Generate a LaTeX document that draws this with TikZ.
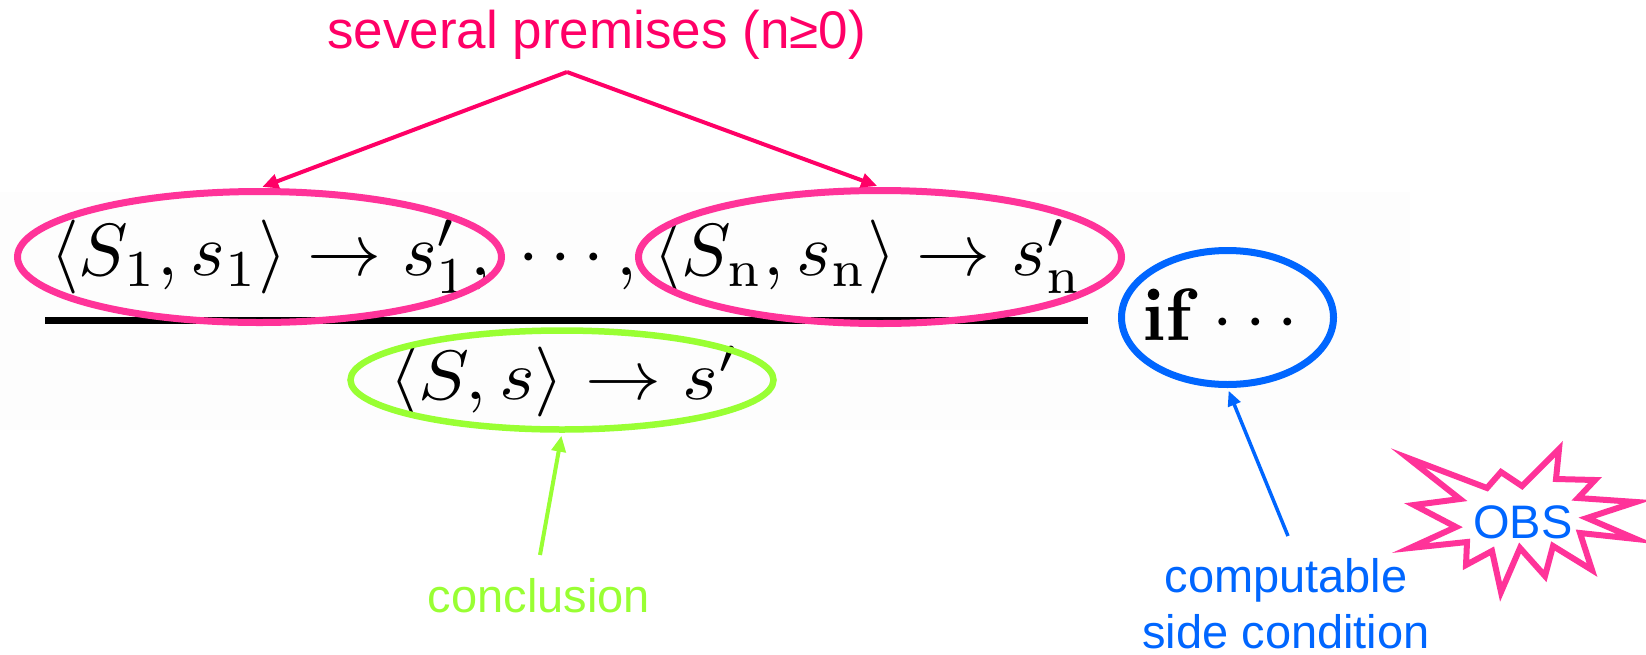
\documentclass[tikz,border=0pt]{standalone}
\usepackage[no-math]{fontspec}
\usepackage{graphicx}
\usetikzlibrary{arrows.meta,shapes.geometric}
\newfontfamily\arialf{Liberation Sans}
\definecolor{pinkA}{HTML}{FF3399}
\definecolor{pinkB}{HTML}{FF0066}
\definecolor{greenA}{HTML}{99FF33}
\definecolor{blueA}{HTML}{0066FF}
\definecolor{bandgray}{HTML}{FDFDFD}
\tikzset{
  lbl/.style={font=\arialf\fontsize{47}{56}\selectfont, inner sep=0pt},
  biglbl/.style={font=\arialf\fontsize{53}{60}\selectfont, inner sep=0pt},
  mathtxt/.style={inner sep=0pt, anchor=base west},
  oval/.style={ellipse, draw, fill=none, inner sep=0pt},
  pinkarrow/.style={draw=pinkB, line width=4pt, shorten >=3pt, -{Triangle[length=16pt,width=14pt]}},
  greenarrow/.style={draw=greenA, line width=4pt, shorten >=3pt, -{Triangle[length=16pt,width=14pt]}},
  bluearrow/.style={draw=blueA, line width=3.5pt, shorten >=3pt, -{Triangle[length=15pt,width=13pt]}},
}
\begin{document}
\begin{tikzpicture}[x=1pt,y=-1pt]
\useasboundingbox (0,0) rectangle (1646,654);
\fill[bandgray] (0,192) rectangle (1410,430);
% inference rule line
\draw[line width=6.5pt] (45,320.5) -- (1088,320.5);
% formulas
\node[mathtxt] (p1txt) at (50,275) {\scalebox{7.4}{$\langle S_1, s_1\rangle \to s'_1,$}};
\node[mathtxt] (dtxt) at (518,275) {\scalebox{7.4}{$\cdots,$}};
\node[mathtxt] (pntxt) at (653,275) {\scalebox{7.4}{$\langle S_{\mathrm{n}}, s_{\mathrm{n}}\rangle \to s'_{\mathrm{n}}$}};
\node[mathtxt] (ctxt) at (389,399) {\scalebox{7.6}[7.0]{$\langle S, s\rangle \to s'$}};
\node[mathtxt] (iftxt) at (1142,340) {\scalebox{7.4}{$\mathbf{if}\cdots$}};
% ovals
\node[oval, draw=pinkA, line width=7pt, minimum width=484pt, minimum height=131pt] (prem1) at (259.5,257) {};
\node[oval, draw=pinkA, line width=7pt, minimum width=483pt, minimum height=133pt] (premn) at (880,257) {};
\node[oval, draw=greenA, line width=6.5pt, minimum width=423pt, minimum height=99pt] (concl) at (562,380) {};
\node[oval, draw=blueA, line width=7pt, minimum width=212pt, minimum height=134pt] (side) at (1227.5,317.5) {};
% labels
\node[biglbl, text=pinkB, anchor=base] (premlbl) at (596.5,48) {several premises (n≥0)};
\node[lbl, text=greenA, anchor=base] (concllbl) at (539,612) {conclusion};
\node[lbl, text=blueA, anchor=base, align=center] (sidelbl) at (1286,648) {computable\\side condition};
% connectors
\coordinate (apex) at (567,72);
\draw[pinkarrow] (apex) -- (prem1.north);
\draw[pinkarrow] (apex) -- (premn.north);
\coordinate (ctail) at (540,555);
\draw[greenarrow] (ctail) -- (concl.south);
\coordinate (btail) at (1288,536);
\draw[bluearrow] (btail) -- (side.south);
% OBS starburst
\draw[draw=pinkA, line width=6pt, line join=miter, fill=white]
  (1559,449) -- (1556,479) -- (1595,480) -- (1578,498) -- (1636,502) -- (1587,518)
  -- (1636,539) -- (1580,533) -- (1592,570) -- (1553,546) -- (1545,576) -- (1520,548)
  -- (1501,592) -- (1492,551) -- (1466,565) -- (1467,542) -- (1410,548) -- (1456,527)
  -- (1414,505) -- (1460,499) -- (1408,458) -- (1487,488) -- (1501,472) -- (1522,486) -- cycle;
\node[lbl, text=blueA, anchor=base] (obs) at (1523,538) {OBS};
\end{tikzpicture}
\end{document}
